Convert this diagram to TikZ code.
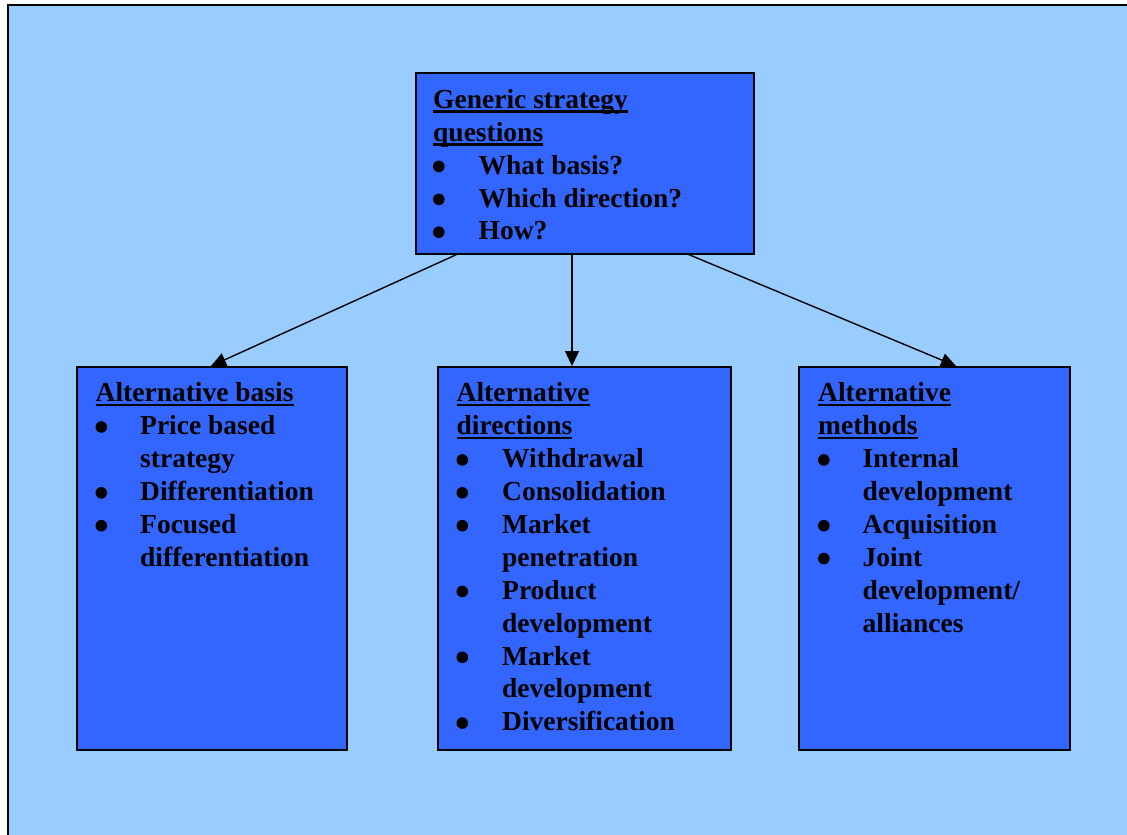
\documentclass[tikz,border=0pt]{standalone}
\usepackage{fontspec}
\setmainfont{Liberation Serif}
\usetikzlibrary{arrows.meta}

\definecolor{panelblue}{HTML}{99CCFF}
\definecolor{boxblue}{HTML}{3366FF}

% Underline set at a fixed depth below the baseline
\newcommand\ulbox[1]{\setbox0\hbox{#1}\rlap{\rule[-4.6pt]{\wd0}{2.5pt}}\box0}
% Round list bullet
\newcommand\dotmark{\tikz[baseline=0pt]{\useasboundingbox (0pt,0pt) rectangle (10pt,1pt);
  \fill[black] (5.6pt,7.7pt) circle (5.8pt);}}
\newcommand\myhead[1]{\multicolumn{2}{@{}l@{}}{\ulbox{#1}}\\}
\newcommand\myitem[1]{\dotmark & #1\\}
\newcommand\mycont[1]{& #1\\}

\tikzset{
  stratbox/.style={draw=black, line width=1.6pt, fill=boxblue, rectangle,
    inner sep=0pt, anchor=north west},
  listtext/.style={inner sep=0pt, anchor=base west,
    font=\fontsize{27.5}{32.9}\selectfont\bfseries},
  link/.style={line width=1.4pt, -{Triangle[length=15pt,width=14pt]}}
}

\begin{document}
\begin{tikzpicture}[x=1pt, y=-1pt]
  \clip (0,0) rectangle (1127,835);

  % panel
  \draw[line width=2.6pt, fill=panelblue] (8,5) rectangle (1160,870);

  % connector end points on the lower boxes' top edges
  \coordinate (qL) at (460,253);
  \coordinate (qM) at (572,253);
  \coordinate (qR) at (685,253);
  \coordinate (aL) at (211,366);
  \coordinate (aM) at (572,366);
  \coordinate (aR) at (956,366);

  \draw[link] (qL) -- (aL);
  \draw[link] (qM) -- (aM);
  \draw[link] (qR) -- (aR);

  % boxes
  \node[stratbox, minimum width=338pt, minimum height=181pt] (questions) at (415,72) {};
  \node[stratbox, minimum width=270pt, minimum height=383pt] (basis) at (76,366) {};
  \node[stratbox, minimum width=293pt, minimum height=383pt] (directions) at (437,366) {};
  \node[stratbox, minimum width=271pt, minimum height=383pt] (methods) at (798,366) {};

  % box texts
  \node[listtext] (questionsText) at (433,108.3) {%
    \begin{tabular}[t]{@{}p{45.5pt}@{}l@{}}
      \myhead{Generic strategy}
      \myhead{questions}
      \myitem{What basis?}
      \myitem{Which direction?}
      \myitem{How?}
    \end{tabular}};

  \node[listtext] (basisText) at (95.5,401.8) {%
    \begin{tabular}[t]{@{}p{44.5pt}@{}l@{}}
      \myhead{Alternative basis}
      \myitem{Price based}
      \mycont{strategy}
      \myitem{Differentiation}
      \myitem{Focused}
      \mycont{differentiation}
    \end{tabular}};

  \node[listtext] (directionsText) at (456.5,401.8) {%
    \begin{tabular}[t]{@{}p{45.5pt}@{}l@{}}
      \myhead{Alternative}
      \myhead{directions}
      \myitem{Withdrawal}
      \myitem{Consolidation}
      \myitem{Market}
      \mycont{penetration}
      \myitem{Product}
      \mycont{development}
      \myitem{Market}
      \mycont{development}
      \myitem{Diversification}
    \end{tabular}};

  \node[listtext] (methodsText) at (818,401.8) {%
    \begin{tabular}[t]{@{}p{44.5pt}@{}l@{}}
      \myhead{Alternative}
      \myhead{methods}
      \myitem{Internal}
      \mycont{development}
      \myitem{Acquisition}
      \myitem{Joint}
      \mycont{development/}
      \mycont{alliances}
    \end{tabular}};
\end{tikzpicture}
\end{document}
